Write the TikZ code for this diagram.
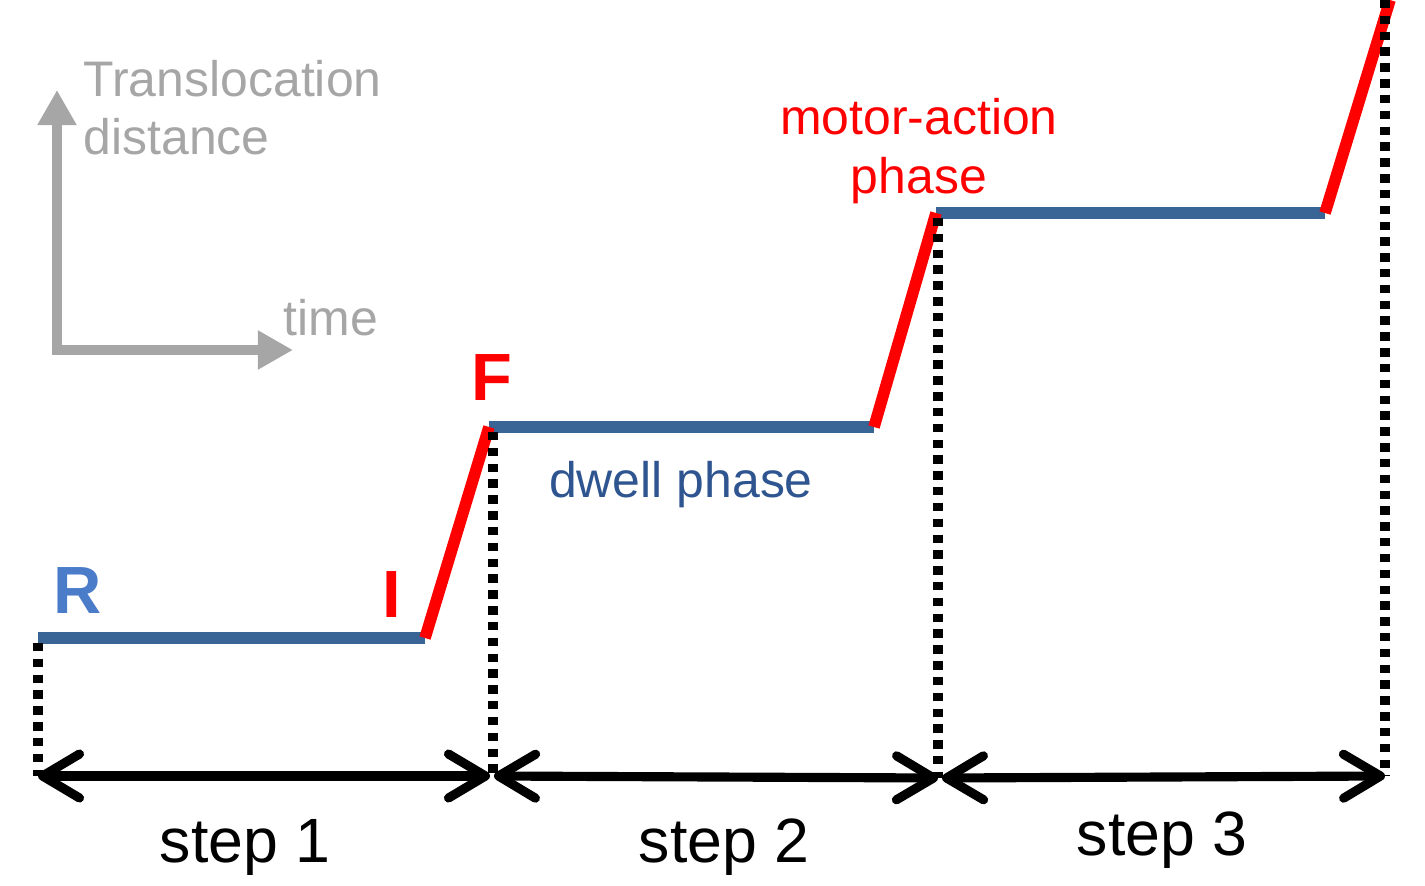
\documentclass[tikz,border=0pt]{standalone}
\usepackage{fontspec}
\setmainfont{Liberation Sans}
\usetikzlibrary{arrows.meta,positioning}
\definecolor{dwellblue}{HTML}{386496}
\definecolor{letterblue}{HTML}{4A7CC9}
\definecolor{textblue}{HTML}{2F5590}
\definecolor{axisgray}{HTML}{A6A6A6}
\newcommand{\labelsize}{\fontsize{14.2}{16}\selectfont}
\begin{document}
\begin{tikzpicture}[x=0.01cm, y=-0.01cm,
              dwell/.style={line width=3.2pt, dwellblue},
              motor/.style={line width=3.3pt, red},
              guide/.style={line width=2.6pt, black, dash pattern=on 2.4pt off 2.1pt},
              steparrow/.style={line width=2.6pt, black,
                {Straight Barb[length=10.5pt,width=12.5pt,round]}-{Straight Barb[length=10.5pt,width=12.5pt,round]}},
              axisarrow/.style={line width=2.8pt, axisgray,
                {Triangle[length=10pt,width=10.5pt]}-{Triangle[length=10pt,width=10.5pt]}},
              steplabel/.style={anchor=base, inner sep=0pt, font=\fontsize{17.8}{20}\selectfont},
              letter/.style={anchor=base, inner sep=0pt, font=\fontsize{19}{20}\selectfont\bfseries},
              phaselabel/.style={anchor=base, inner sep=0pt, font=\labelsize},
             ]
\useasboundingbox (0,0) rectangle (1425,885);
% axes
\coordinate (ytip) at (57,90);
\coordinate (xtip) at (293,350);
\draw[axisarrow] (ytip) |- (xtip);
\node[phaselabel, anchor=base west, axisgray] (trans) at (83,97) {Translocation};
\node[phaselabel, anchor=base west, axisgray] (dist) at (83,155) {distance};
\node[phaselabel, anchor=base west, axisgray] (time) at (283,335) {time};
% staircase
\coordinate (p0) at (38,638);
\coordinate (p1) at (425,638);
\coordinate (p2) at (489,427);
\coordinate (p3) at (874,427);
\coordinate (p4) at (936,213);
\coordinate (p5) at (1325,213);
\coordinate (p6) at (1390,0);
\draw[dwell] (p0) -- (p1);
\draw[dwell] (p2) -- (p3);
\draw[dwell] (p4) -- (p5);
\draw[motor] (p1) -- (p2);
\draw[motor] (p3) -- (p4);
\draw[motor] (p5) -- (p6);
% step marks
\coordinate (t0) at (38,643);
\coordinate (t1) at (493,432);
\coordinate (t2) at (938,218);
\coordinate (t3) at (1385,0);
\coordinate (b0) at (38,776);
\coordinate (b1) at (490,776);
\coordinate (b2) at (938,778);
\coordinate (b3) at (1385,776);
\draw[guide] (t0) -- (b0);
\draw[guide] (t1) -- (b1 -| t1);
\draw[guide] (t2) -- (b2);
\draw[guide] (t3) -- (b3);
\draw[steparrow] (b0) -- (b1);
\draw[steparrow] (b1) ++(4,0) -- (b2);
\draw[steparrow] (b2) ++(4,0) -- (b3);
\node[steplabel] (s1) at (245,862) {step 1};
\node[steplabel] (s2) at (724,862) {step 2};
\node[steplabel] (s3) at (1162,855) {step 3};
% labels
\node[letter, anchor=base west, letterblue] (R) at (53,613) {R};
\node[letter, red] (I) at (392,617) {I};
\node[letter, red] (F) at (492,400) {F};
\node[phaselabel, textblue] (dwelltxt) at (681,497) {dwell phase};
\node[phaselabel, red] (motortxt) at (919,135) {motor-action};
\node[phaselabel, red] (phasetxt) at (919,193) {phase};
\end{tikzpicture}
\end{document}
